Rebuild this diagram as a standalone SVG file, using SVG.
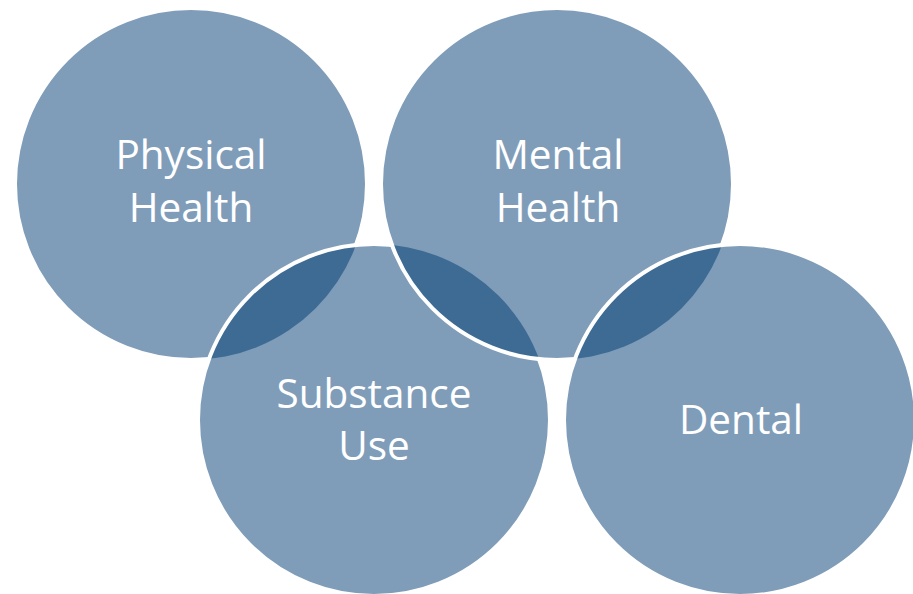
<svg xmlns="http://www.w3.org/2000/svg" width="913" height="594" viewBox="0 0 913 594">
<style>
.c{fill:#7f9db9}
.s{fill:none;stroke:#ffffff;stroke-width:4}
.lens{fill:#3e6b94}
.t{fill:#ffffff;font-family:"Open Sans","Liberation Sans",sans-serif;font-size:40.5px;text-anchor:middle}
</style>
<defs>
<clipPath id="clipPhys"><circle cx="191" cy="184" r="176"/></clipPath>
<clipPath id="clipSub"><circle cx="374" cy="420" r="176"/></clipPath>
<clipPath id="clipMent"><circle cx="557" cy="184" r="176"/></clipPath>
</defs>
<rect width="913" height="594" fill="#ffffff"/>
<g id="physical">
<circle class="c" cx="191" cy="184" r="176"/>
<circle class="s" cx="191" cy="184" r="176"/>
</g>
<g id="substance">
<circle class="c" cx="374" cy="420" r="176"/>
<circle class="lens" cx="374" cy="420" r="176" clip-path="url(#clipPhys)"/>
<circle class="s" cx="374" cy="420" r="176"/>
</g>
<g id="mental">
<circle class="c" cx="557" cy="184" r="176"/>
<circle class="lens" cx="557" cy="184" r="176" clip-path="url(#clipSub)"/>
<circle class="s" cx="557" cy="184" r="176"/>
</g>
<g id="dental">
<circle class="c" cx="740" cy="420" r="176"/>
<circle class="lens" cx="740" cy="420" r="176" clip-path="url(#clipMent)"/>
<circle class="s" cx="740" cy="420" r="176"/>
</g>
<g id="labels">
<text class="t" x="191" y="169">Physical</text>
<text class="t" x="191" y="222">Health</text>
<text class="t" x="558" y="169">Mental</text>
<text class="t" x="558" y="222">Health</text>
<text class="t" x="374" y="408">Substance</text>
<text class="t" x="374" y="460">Use</text>
<text class="t" x="741" y="434">Dental</text>
</g>
<g id="connectors"></g>
</svg>
